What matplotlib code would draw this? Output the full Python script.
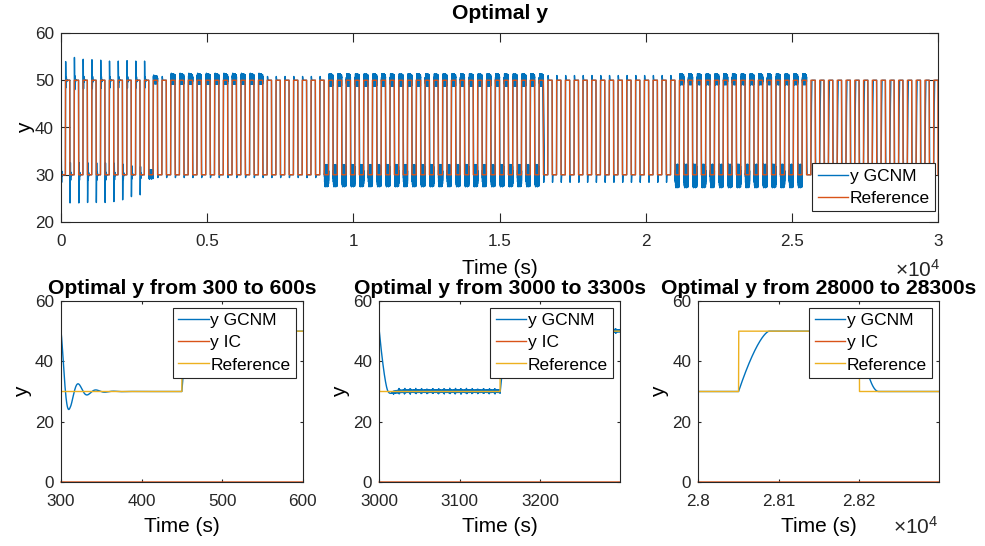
import numpy as np
import matplotlib
matplotlib.use("Agg")
import matplotlib.pyplot as plt

plt.rcParams["font.family"] = ["Liberation Sans", "DejaVu Sans"]
plt.rcParams["mathtext.fontset"] = "custom"
plt.rcParams["mathtext.rm"] = "Liberation Sans"
plt.rcParams["mathtext.it"] = "Liberation Sans"

# ---------------- reference square wave ----------------
ref_levels = [30.0, 50.0]          # low / high set-points
half_period = 150.0                # seconds spent on each level
t_end = 30000.0

# ---------------- GCNM output, start-up phase (0-3000 s) ----------------
initial_y = 23.0
initial_peak = 33.5
rise_peaks = [53.4, 54.3, 53.9, 53.8, 53.7, 53.5, 53.5, 53.6, 53.5, 53.5]   # steps at 150, 450, ... 2850 s
fall_troughs = [24.5, 24.5, 24.6, 24.6, 24.6, 24.8, 25.2, 25.9, 26.3]      # steps at 300, 600, ... 2700 s
osc_half_cycle = 11.0              # s between successive extremes
osc_decay = 0.45                   # ratio of successive extremes
startup_end = 3000.0

# ---------------- GCNM output after 3000 s ----------------
settle_spans = [(3000, 25500), (25500, 30000)]
settle_rise_T = [11.0, 38.0]
settle_fall_T = [11.0, 24.0]
settle_rise_p = [1.5, 1.5]
settle_fall_p = [1.5, 2.0]

# chattering bands (lower edge, upper edge) on the high and low levels
band_high_spans = [(3150, 3300), (3750, 6900), (9150, 16500), (21150, 25500)]
band_high_lo = [49.2, 49.1, 48.7, 49.0]
band_high_hi = [51.0, 51.4, 51.4, 51.4]
band_low_spans = [(3000, 3150), (9000, 16500), (21000, 25500)]
band_low_lo = [29.1, 27.4, 27.2]
band_low_hi = [31.1, 32.2, 32.3]
chatter_period = 0.9               # fast switching
burst_period = 7.0                 # spacing of the larger excursions

# small over/undershoot after a step in the quiet phases
spike_spans = [(3000, 9000), (16500, 21000), (25500, 30000)]
spike_high = [0.8, 1.0, 0.0]
spike_low = [0.6, 1.6, 0.0]


def span_index(spans, t0):
    for i, (a, b) in enumerate(spans):
        if a <= t0 < b:
            return i
    return None


dt = 0.25
t = np.arange(0.0, t_end + dt / 2, dt)
y_gcnm = np.empty_like(t)

# level k holds on (150k, 150(k+1)]
lvl_idx = np.ceil(t / half_period - 1e-9).astype(int) - 1
lvl_idx[0] = 0
ref = np.array(ref_levels)[lvl_idx % 2]
ref[-1] = ref_levels[0]

n_seg = int(round(t_end / half_period))
n_startup = int(round(startup_end / half_period))
y_gcnm[0] = initial_y
y_prev = initial_y
for k in range(n_seg):
    t0 = k * half_period
    m = (t > t0) & (t <= t0 + half_period)
    s = t[m] - t0
    r = ref_levels[k % 2]
    if k < n_startup:
        if k == 0:
            extreme = initial_peak
        elif k % 2 == 1:
            extreme = rise_peaks[(k - 1) // 2]
        else:
            extreme = fall_troughs[k // 2 - 1]
        env1 = abs(extreme - r) / abs(y_prev - r)
        env = np.where(s <= osc_half_cycle,
                       env1 ** (s / osc_half_cycle),
                       env1 * osc_decay ** ((s - osc_half_cycle) / osc_half_cycle))
        seg = r + (y_prev - r) * env * np.cos(np.pi * s / osc_half_cycle)
    else:
        si = span_index(settle_spans, t0)
        rising = r > y_prev
        T = settle_rise_T[si] if rising else settle_fall_T[si]
        p = settle_rise_p[si] if rising else settle_fall_p[si]
        seg = r + (y_prev - r) * np.clip(1 - s / T, 0, None) ** p
        pi_ = span_index(spike_spans, t0)
        if pi_ is not None:
            o = spike_high[pi_] if rising else spike_low[pi_]
            u = np.clip(s - T, 0, None) / 3.0
            seg = seg + (1 if rising else -1) * o * u * np.exp(1 - u)
        if k % 2 == 1:
            bi = span_index(band_high_spans, t0)
            edges = (band_high_lo[bi], band_high_hi[bi]) if bi is not None else None
        else:
            bi = span_index(band_low_spans, t0)
            edges = (band_low_lo[bi], band_low_hi[bi]) if bi is not None else None
        if edges is not None:
            c = 0.5 * (edges[0] + edges[1])
            a = 0.5 * (edges[1] - edges[0])
            fade = np.clip((s - T - 3) / 6, 0, 1)
            burst = np.exp(-((s % burst_period) - burst_period / 2) ** 2 / 0.6)
            amp = a * (0.45 + 0.55 * burst)
            seg = seg + fade * ((c - r) + amp * np.sin(2 * np.pi * s / chatter_period))
    y_gcnm[m] = seg
    y_prev = seg[-1]

y_ic = np.zeros_like(t)

# ---------------- figure ----------------
W, H = 985, 546
fig = plt.figure(figsize=(W / 100, H / 100), dpi=100)

c_blue, c_orange, c_yellow = "#0072BD", "#D95319", "#EDB120"
axc = "#262626"
tick_fs, label_fs, title_fs, leg_fs = 12.3, 15, 15.2, 12.5
lw = 1.0


def px_axes(l, t_, r, b):
    return fig.add_axes([l / W, 1 - b / H, (r - l) / W, (b - t_) / H])


def style(ax, ticklen):
    for sp in ax.spines.values():
        sp.set_color(axc)
        sp.set_linewidth(0.8)
    ax.tick_params(direction="in", top=True, right=True, length=ticklen,
                   width=0.8, colors=axc, labelsize=tick_fs)
    ax.tick_params(axis="x", pad=8.5)
    ax.tick_params(axis="y", pad=5)


def legend(ax, labels_handles, loc, anchor):
    hs, ls = zip(*labels_handles)
    lg = ax.legend(hs, ls, loc=loc, bbox_to_anchor=anchor, fontsize=leg_fs,
                   frameon=True, fancybox=False, framealpha=1, edgecolor=axc,
                   borderpad=0.3, borderaxespad=0, handlelength=1.75,
                   handletextpad=0.1, labelspacing=0.4)
    lg.get_frame().set_linewidth(0.8)
    return lg


def offset_label(x, y):
    fig.text(x / W, 1 - y / H, r"$\times10^{4}$", fontsize=15,
             color=axc, va="center", ha="left")


# main panel
ax = px_axes(61, 33, 938, 222)
h1, = ax.plot(t, y_gcnm, color=c_blue, lw=lw)
h2, = ax.plot(t, ref, color=c_orange, lw=lw)
ax.set_xlim(0, t_end)
ax.set_ylim(20, 60)
ax.set_yticks([20, 30, 40, 50, 60])
ax.set_xticks([0, 5000, 10000, 15000, 20000, 25000, 30000])
ax.set_xticklabels(["0", "0.5", "1", "1.5", "2", "2.5", "3"])
style(ax, 6.3)
ax.set_title("Optimal y", fontsize=title_fs, fontweight="bold", pad=10)
ax.set_xlabel("Time (s)", fontsize=label_fs, labelpad=7)
ax.set_ylabel("y", fontsize=label_fs, labelpad=0)
legend(ax, [(h1, "y GCNM"), (h2, "Reference")], "lower right",
       ((935 - 61) / 877, (222 - 211) / 189))
offset_label(895, 270)

# zoomed panels
zooms = [
    (61, 302.7, (300, 600), [300, 400, 500, 600], ["300", "400", "500", "600"],
     "Optimal y from 300 to 600s"),
    (379.3, 620, (3000, 3299), [3000, 3100, 3200], ["3000", "3100", "3200"],
     "Optimal y from 3000 to 3300s"),
    (698.3, 939, (28000, 28299), [28000, 28100, 28200], ["2.8", "2.81", "2.82"],
     "Optimal y from 28000 to 28300s"),
]
for l, r, xl, xt, xtl, ttl in zooms:
    a = px_axes(l, 301, r, 482)
    sel = (t >= xl[0]) & (t <= xl[1])
    g1, = a.plot(t[sel], y_gcnm[sel], color=c_blue, lw=lw)
    g2, = a.plot(t[sel], y_ic[sel], color=c_orange, lw=lw, clip_on=False)
    g3, = a.plot(t[sel], ref[sel], color=c_yellow, lw=lw)
    a.set_xlim(*xl)
    a.set_ylim(0, 60)
    a.set_yticks([0, 20, 40, 60])
    a.set_xticks(xt)
    a.set_xticklabels(xtl)
    style(a, 2.4)
    a.set_title(ttl, fontsize=title_fs, fontweight="bold", pad=5)
    a.set_xlabel("Time (s)", fontsize=label_fs, labelpad=6)
    a.set_ylabel("y", fontsize=label_fs, labelpad=2)
    width = r - l
    legend(a, [(g1, "y GCNM"), (g2, "y IC"), (g3, "Reference")], "upper right",
           ((r - 7 - l) / width, 1 - 7 / 181))

offset_label(893, 527)

fig.savefig("out.png", dpi=100)
